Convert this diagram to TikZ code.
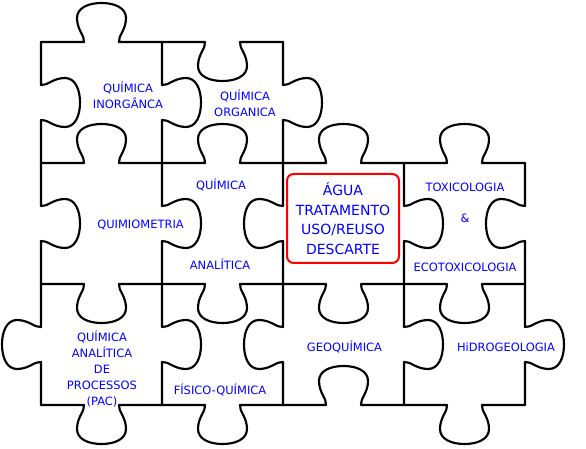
\documentclass[tikz,border=0pt]{standalone}
\usepackage{fontspec}
\setmainfont{DejaVu Sans}

\tikzset{
  piece/.style={line width=1.6pt, line cap=round, line join=round},
  knob/.pic={\draw[piece] (0,0) -- (43,0) .. controls (44,-6) and (36,-12) .. (36,-24) .. controls (36,-34) and (47,-39) .. (60.5,-39) .. controls (74,-39) and (85,-34) .. (85,-24) .. controls (85,-12) and (77,-6) .. (78,0) -- (121,0);},
  word/.style={text=blue, align=center, inner sep=0pt, font=\fontsize{8.6}{12}\selectfont},
}

\begin{document}
\begin{tikzpicture}[x=0.75pt, y=-0.75pt]
			\useasboundingbox (0,0) rectangle (586,449);

			% horizontal edges (knob up, or down with yscale=-1)
			\pic at (41,42) {knob};
			\pic[yscale=-1] at (162,42) {knob};
			\foreach \x in {41,162,283,404} \pic at (\x,163) {knob};
			\foreach \x in {41,162,283,404} \pic[yscale=-1] at (\x,284) {knob};
			\pic[yscale=-1] at (41,405) {knob};
			\pic[yscale=-1] at (162,405) {knob};
			\pic at (283,405) {knob};
			\pic[yscale=-1] at (404,405) {knob};

			% vertical edges (knob right, or left with yscale=-1)
			\pic[rotate=-90] at (41,42) {knob};
			\pic[rotate=-90] at (41,163) {knob};
			\pic[rotate=-90, yscale=-1] at (41,284) {knob};
			\foreach \y in {42,163,284} \pic[rotate=-90] at (162,\y) {knob};
			\pic[rotate=-90] at (283,42) {knob};
			\pic[rotate=-90, yscale=-1] at (283,163) {knob};
			\pic[rotate=-90, yscale=-1] at (283,284) {knob};
			\pic[rotate=-90] at (404,163) {knob};
			\pic[rotate=-90] at (404,284) {knob};
			\pic[rotate=-90, yscale=-1] at (525,163) {knob};
			\pic[rotate=-90] at (525,284) {knob};

			% labels
			\node[word] (inorganica) at (128,95.5) {QUÍMICA\\INORGÂNCA};
			\node[word] (organica) at (245,103.5) {QUÍMICA\\ORGANICA};
			\node[word] (quimiometria) at (140.5,225) {QUIMIOMETRIA};
			\node[word] (quimica) at (221,184.5) {QUÍMICA};
			\node[word] (analitica) at (220,264) {ANALÍTICA};
			\node[word, draw=red, line width=1.5pt, rounded corners=5pt, minimum width=84pt, minimum height=66.75pt, font=\fontsize{10.5}{14.6}\selectfont] (agua) at (343,218.5) {ÁGUA\\TRATAMENTO\\USO/REUSO\\DESCARTE};
			\node[word] (toxicologia) at (465,187) {TOXICOLOGIA};
			\node[word] (e) at (465,218) {\&};
			\node[word] (ecotoxicologia) at (465,267) {ECOTOXICOLOGIA};
			\node[word] (pac) at (102,369) {QUÍMICA\\ANALÍTICA\\DE\\PROCESSOS\\(PAC)};
			\node[word] (fisico) at (220,390) {FÍSICO-QUÍMICA};
			\node[word] (geoquimica) at (344.5,347) {GEOQUÍMICA};
			\node[word] (hidrogeologia) at (506,347) {HiDROGEOLOGIA};
\end{tikzpicture}
\end{document}
